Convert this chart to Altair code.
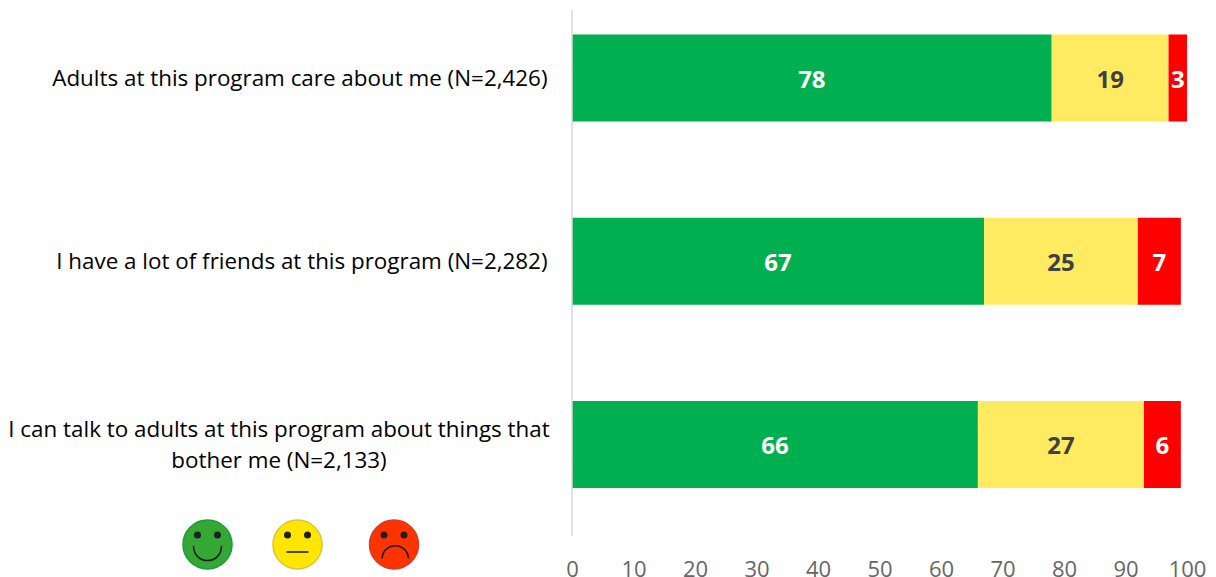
import altair as alt
import pandas as pd

questions = [
    "Adults at this program care about me (N=2,426)",
    "I have a lot of friends at this program (N=2,282)",
    "I can talk to adults at this program about things that bother me (N=2,133)",
]
positive = [78, 67, 66]
neutral = [19, 25, 27]
negative = [3, 7, 6]
responses = ["Positive", "Neutral", "Negative"]
colors = ["#00B050", "#FFEB62", "#FF0000"]
x_ticks = [0, 10, 20, 30, 40, 50, 60, 70, 80, 90, 100]

FONT = "Open Sans"
LABEL_SIZE = 22.4

rows = []
for q, p, m, n in zip(questions, positive, neutral, negative):
    for i, (r, v) in enumerate(zip(responses, (p, m, n))):
        rows.append({"question": q, "response": r, "value": v, "rank": i})
bars_df = pd.DataFrame(rows)

y_enc = alt.Y(
    "question:N",
    sort=questions,
    axis=None,
    scale=alt.Scale(
        domain=questions,
        range=[-23.5, 526],
        paddingInner=0.525,
        paddingOuter=0.2625,
    ),
)
x_scale = alt.Scale(domain=[0, 100], nice=False, clamp=False)

bars = (
    alt.Chart(bars_df)
    .mark_bar(clip=False)
    .encode(
        x=alt.X(
            "value:Q",
            stack="zero",
            scale=x_scale,
            axis=alt.Axis(
                values=x_ticks,
                title=None,
                grid=False,
                domain=False,
                ticks=False,
                labelFont=FONT,
                labelFontSize=22,
                labelColor="#666666",
                labelPadding=23,
                labelBaseline="top",
                labelFlush=False,
                labelOverlap=False,
            ),
        ),
        y=y_enc,
        color=alt.Color(
            "response:N",
            scale=alt.Scale(domain=responses, range=colors),
            legend=None,
        ),
        order=alt.Order("rank:Q"),
    )
)

values = (
    alt.Chart(bars_df)
    .mark_text(font=FONT, fontSize=24, fontWeight="bold", dy=3, clip=False)
    .encode(
        x=alt.X("value:Q", stack="zero", bandPosition=0.5, scale=x_scale),
        y=y_enc,
        text=alt.Text("value:Q"),
        order=alt.Order("rank:Q"),
        color=alt.condition(
            "datum.response === 'Neutral'", alt.value("#404040"), alt.value("#FFFFFF")
        ),
    )
)

# Vertical baseline at zero
baseline = (
    alt.Chart(pd.DataFrame({"zero": [0]}))
    .mark_rule(color="#D9D9D9", strokeWidth=1.5)
    .encode(x=alt.X("zero:Q", scale=x_scale), y=alt.value(0), y2=alt.value(526))
)

# Category captions: short ones sit flush right, the long one wraps and centres
single_df = pd.DataFrame({"question": questions[:2]})
captions = (
    alt.Chart(single_df)
    .mark_text(font=FONT, fontSize=LABEL_SIZE, align="right", color="#000000", dy=1, clip=False)
    .encode(x=alt.value(-24.5), y=y_enc, text="question:N")
)
wrapped_df = pd.DataFrame(
    {
        "question": [questions[2]],
        "lines": [["I can talk to adults at this program about things that", "bother me (N=2,133)"]],
    }
)
wrapped = (
    alt.Chart(wrapped_df)
    .mark_text(
        font=FONT,
        fontSize=LABEL_SIZE,
        align="center",
        color="#000000",
        lineHeight=31,
        dy=-14,
        clip=False,
    )
    .encode(x=alt.value(-293), y=y_enc, text="lines:N")
)

# Smiley key beneath the captions
FACE_Y = 534.5
EYE_Y = FACE_Y - 9.5
one = pd.DataFrame({"k": [0]})


def face(cx, fill, edge, mouth):
    disc = alt.Chart(one).mark_point(
        shape="circle", size=2401, filled=True, fill=fill, stroke=edge, strokeWidth=1.5, opacity=1
    ).encode(x=alt.value(cx), y=alt.value(FACE_Y))
    left = alt.Chart(one).mark_point(
        shape="circle", size=49, filled=True, fill="#231F20", opacity=1
    ).encode(x=alt.value(cx - 10), y=alt.value(EYE_Y))
    right = alt.Chart(one).mark_point(
        shape="circle", size=49, filled=True, fill="#231F20", opacity=1
    ).encode(x=alt.value(cx + 10), y=alt.value(EYE_Y))
    lip = alt.Chart(one).mark_point(
        shape=mouth, size=2500, filled=False, stroke="#231F20", strokeWidth=1.6, opacity=1
    ).encode(x=alt.value(cx), y=alt.value(FACE_Y))
    return disc + left + right + lip


SMILE = "M-0.56,0.05 C-0.56,0.84 0.56,0.84 0.56,0.05"
FLAT = "M-0.44,0.3 L0.44,0.3"
FROWN = "M-0.48,0.56 C-0.42,-0.12 0.52,-0.12 0.58,0.56"

chart = (
    alt.layer(
        bars,
        baseline,
        values,
        captions,
        wrapped,
        face(-364.5, "#33A833", "#1F9A3C", SMILE),
        face(-274.5, "#FFE600", "#D9C63A", FLAT),
        face(-178, "#FF3300", "#D0402A", FROWN),
    )
    .properties(
        width=615,
        height=526,
        autosize=alt.AutoSizeParams(type="none"),
        padding={"left": 572, "top": 10, "right": 29, "bottom": 41},
    )
    .configure_view(stroke=None)
)

chart.save("out.html", embed_options={"renderer": "svg", "actions": False})
